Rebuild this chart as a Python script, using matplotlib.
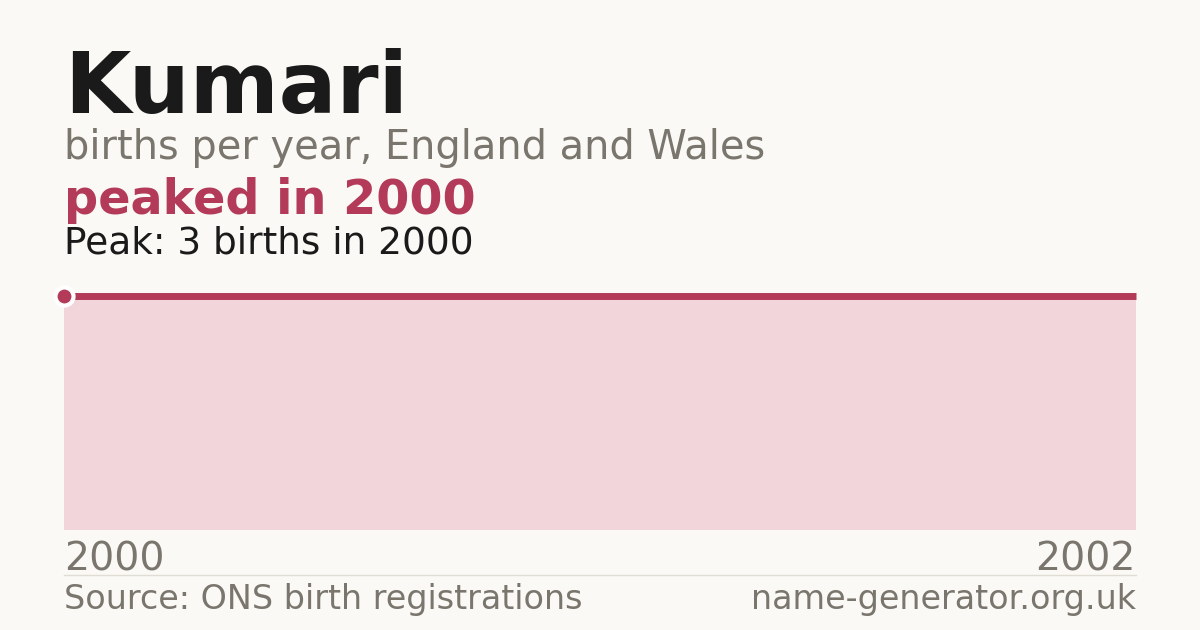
import matplotlib.pyplot as plt

# data
years = [2000, 2001, 2002]
births = [3, 3, 3]
peak_year = 2000
peak_value = 3
tick_labels = ["2000", "2002"]

BG = "#faf9f5"
RED = "#b33a58"
FILL = "#f2d5da"
GREY = "#7a756d"
DARK = "#1a1a1a"

W, H = 1200, 630
fig = plt.figure(figsize=(W / 100, H / 100), dpi=100, facecolor=BG)


def px(x, y):
    return x / W, 1 - y / H


# plot area in pixels
left, right, top, bottom = 64, 1136, 296, 530
ax = fig.add_axes([left / W, 1 - bottom / H, (right - left) / W, (bottom - top) / H])
ax.set_facecolor(BG)
ax.fill_between(years, births, 0, color=FILL, linewidth=0)
ax.plot(years, births, color=RED, linewidth=5, solid_capstyle="butt", clip_on=False)
ax.plot([peak_year], [peak_value], "o", color=RED, markersize=13,
        markeredgecolor="white", markeredgewidth=3, clip_on=False, zorder=5)
ax.set_xlim(years[0], years[-1])
ax.set_ylim(0, max(births))
ax.axis("off")

# header texts
fig.text(*px(64, 113), "Kumari", fontsize=61.6, fontweight="bold", color=DARK, va="baseline")
fig.text(*px(64, 159.5), "births per year, England and Wales", fontsize=28.75, color=GREY, va="baseline")
fig.text(*px(64, 213.5), f"peaked in {peak_year}", fontsize=34.4, fontweight="bold", color=RED, va="baseline")
fig.text(*px(64, 253.5), f"Peak: {peak_value} births in {peak_year}", fontsize=27, color=DARK, va="baseline")

# x labels
fig.text(*px(64, 570.5), tick_labels[0], fontsize=28.4, color=GREY, va="baseline", ha="left")
fig.text(*px(1136, 570.5), tick_labels[1], fontsize=28.4, color=GREY, va="baseline", ha="right")

# separator
fig.add_artist(plt.Line2D([64 / W, 1136 / W], [1 - 575 / H] * 2, color="#e0ddd5", linewidth=1))

# footer
fig.text(*px(64, 609.5), "Source: ONS birth registrations", fontsize=24, color=GREY, va="baseline")
fig.text(*px(1136, 609.5), "name-generator.org.uk", fontsize=24, color=GREY, va="baseline", ha="right")

fig.savefig("out.png", dpi=100, facecolor=BG)
